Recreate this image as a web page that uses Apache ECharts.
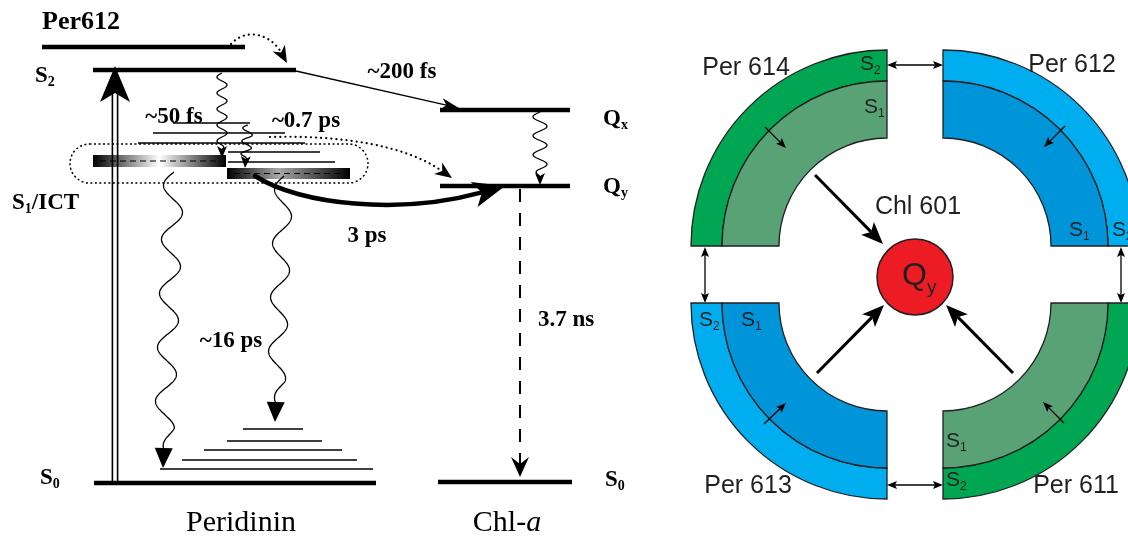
<!DOCTYPE html>
<html>
<head>
<meta charset="utf-8">
<script src="https://cdn.jsdelivr.net/npm/echarts@6/dist/echarts.min.js"></script>
<style>
  html, body { margin: 0; padding: 0; background: #fff; }
  #chart { width: 1128px; height: 537px; }
</style>
</head>
<body>
<div id="chart"></div>
<script>
// ---------- Scheme geometry (plot units = pixels of the 1128 x 537 frame) ----------

// Electronic levels: [x1, x2, y]
const levels = [
  [42, 245, 47],    // Per612 S2
  [93, 296, 70],    // Peridinin S2
  [440, 570, 110],  // Chl-a Qx
  [440, 570, 186],  // Chl-a Qy
  [94, 376, 483],   // Peridinin S0
  [438, 572, 482]   // Chl-a S0
];

// Vibrational sublevels: [x1, x2, y]
const subLevels = [
  [173, 250, 123], [153, 285, 133], [138, 305, 143], [228, 320, 152], [228, 335, 162],
  [243, 303, 429], [227, 322, 441], [204, 342, 450], [182, 357, 460], [160, 373, 469]
];

// S1/ICT bands: [x1, x2, yTop, yBottom, tone]
const ictBands = [
  [93, 226, 155, 167, 'light'],
  [227, 350, 168, 179, 'grey']
];

// Dotted envelope around the S1/ICT manifold: [x1, y1, x2, y2]
const ictEnvelope = [[70, 144, 368, 183]];

// Wavy (non-radiative) transitions: [x1, y1, x2, y2, amplitude, wavelength, head]
const waves = [
  [222, 73, 222, 158, 5, 16, 'small'],
  [248, 125, 245, 168, 5, 13, 'small'],
  [540, 112, 540, 185, 7, 19, 'small'],
  [174, 172, 163, 468, 10, 54, 'plain'],
  [284, 176, 275, 422, 9, 54, 'plain']
];

// Straight arrows: [x1, y1, x2, y2, kind]
const arrows = [
  [115, 483, 115, 66, 'excite'],
  [296, 71, 459, 108, 'thin'],
  [520, 189, 520, 477, 'dashed'],
  [815, 175, 883, 244, 'big'],
  [817, 373, 884, 305, 'big'],
  [1013, 373, 946, 305, 'big'],
  [765, 127, 786, 148, 'small'],
  [1065, 126, 1044, 147, 'small'],
  [764, 424, 786, 403, 'small'],
  [1064, 423, 1043, 402, 'small'],
  [887, 65, 943, 65, 'both'],
  [887, 485, 943, 485, 'both'],
  [705, 247, 705, 303, 'both'],
  [1121, 247, 1121, 303, 'both']
];

// Curved arrows (cubic): [x0, y0, c1x, c1y, c2x, c2y, x3, y3, kind]
const curves = [
  [231, 44, 248, 26, 272, 36, 287, 63, 'dotted'],
  [270, 137, 340, 135, 405, 145, 452, 178, 'dotted'],
  [255, 176, 300, 205, 400, 215, 505, 186, 'bold']
];

// Antenna quadrants: [cx, cy, startDeg, endDeg, tone]
const quadrants = [
  [887, 246, 180, 270, 'green'],  // Per 614
  [943, 246, 270, 360, 'blue'],   // Per 612
  [887, 303, 90, 180, 'blue'],    // Per 613
  [943, 303, 0, 90, 'green']      // Per 611
];
const bandRadii = [108, 165, 196];   // inner S1 edge, S1/S2 border, outer S2 edge

// Chl 601 acceptor: [cx, cy, r]
const acceptor = [[915, 277, 38]];

// Labels: [x, y, anchor, font, main, subscript, tail]
const labels = [
  [42, 22, 'left', 'serifL', 'Per612'],
  [35, 76, 'left', 'serif', 'S', '2'],
  [12, 203, 'left', 'serif', 'S', '1', '/ICT'],
  [40, 478, 'left', 'serif', 'S', '0'],
  [603, 119, 'left', 'serif', 'Q', 'x'],
  [603, 187, 'left', 'serif', 'Q', 'y'],
  [605, 480, 'left', 'serif', 'S', '0'],
  [174, 117, 'center', 'serif', '~50 fs'],
  [306, 121, 'center', 'serif', '~0.7 ps'],
  [402, 72, 'center', 'serif', '~200 fs'],
  [367, 236, 'center', 'serif', '3 ps'],
  [231, 341, 'center', 'serif', '~16 ps'],
  [566, 320, 'center', 'serif', '3.7 ns'],
  [241, 523, 'center', 'roman', 'Peridinin'],
  [507, 523, 'center', 'roman', 'Chl-', '', 'a'],
  [746, 68, 'center', 'sans', 'Per 614'],
  [1072, 65, 'center', 'sans', 'Per 612'],
  [748, 486, 'center', 'sans', 'Per 613'],
  [1076, 486, 'center', 'sans', 'Per 611'],
  [918, 207, 'center', 'sans', 'Chl 601'],
  [860, 64, 'left', 'state', 'S', '2'],
  [864, 107, 'left', 'state', 'S', '1'],
  [1069, 230, 'left', 'state', 'S', '1'],
  [1112, 230, 'left', 'state', 'S', '2'],
  [699, 320, 'left', 'state', 'S', '2'],
  [741, 320, 'left', 'state', 'S', '1'],
  [946, 441, 'left', 'state', 'S', '1'],
  [946, 480, 'left', 'state', 'S', '2'],
  [902, 276, 'left', 'qy', 'Q', 'y']
];

// ---------- Styles ----------
const INK = '#000';
const FONTS = {
  serifL: { main: 'bold 26px "Liberation Serif"', color: INK },
  serif:  { main: 'bold 23px "Liberation Serif"', sub: 'bold 14px "Liberation Serif"', dy: 6, color: INK },
  roman:  { main: '30px "Liberation Serif"', tail: 'italic 30px "Liberation Serif"', color: INK },
  sans:   { main: '25px "Liberation Sans"', color: '#231f20' },
  state:  { main: '21px "Liberation Sans"', sub: '12px "Liberation Sans"', dy: 7, color: '#231f20' },
  qy:     { main: '32px "Liberation Sans"', sub: '19px "Liberation Sans"', dy: 12, color: '#231f20' }
};
const HEADS = {
  excite: { L: 36, hw: 15, notch: 9 },
  thin:   { L: 18, hw: 6, notch: 5 },
  dashed: { L: 20, hw: 9, notch: 7 },
  big:    { L: 22, hw: 9, notch: 5 },
  small:  { L: 12, hw: 5, notch: 3 },
  tiny:   { L: 10, hw: 4, notch: 2 },
  plain:  { L: 20, hw: 9, notch: 0 },
  dotted: { L: 17, hw: 7, notch: 5 },
  bold:   { L: 32, hw: 13, notch: 8 }
};
const ARROW_KINDS = {
  excite: { w: 1.6, twin: 2.6, head: 'excite' },
  thin:   { w: 1.3, head: 'thin' },
  dashed: { w: 2, dash: [13, 11], head: 'dashed' },
  big:    { w: 3, head: 'big' },
  small:  { w: 1.3, head: 'tiny' },
  both:   { w: 1.3, head: 'tiny', both: true }
};
const CURVE_KINDS = {
  dotted: { w: 2.2, dash: [0.1, 5], head: 'dotted' },
  bold:   { w: 4.5, head: 'bold' }
};
const TONES = {
  green: { s2: '#00a651', s1: '#58a276' },
  blue:  { s2: '#00aeef', s1: '#0094d9' },
  light: [{ offset: 0, color: '#000' }, { offset: 0.5, color: '#fff' }, { offset: 1, color: '#000' }],
  grey:  [{ offset: 0, color: '#000' }, { offset: 0.42, color: '#a8a8a8' }, { offset: 1, color: '#000' }]
};

// ---------- Rendering helpers ----------
const measure = (() => {
  const ctx = document.createElement('canvas').getContext('2d');
  return (s, font) => { ctx.font = font; return ctx.measureText(s).width; };
})();

function unit(a, b) {
  const dx = b[0] - a[0], dy = b[1] - a[1], d = Math.hypot(dx, dy) || 1;
  return [dx / d, dy / d];
}

// Notched arrowhead whose tip sits at `tip`, pointing away from `from` (pixel coords).
function arrowHead(tip, from, h) {
  const [ux, uy] = unit(from, tip);
  const px = -uy, py = ux;
  const bx = tip[0] - ux * h.L, by = tip[1] - uy * h.L;
  return {
    type: 'polygon',
    shape: { points: [
      tip,
      [bx + px * h.hw, by + py * h.hw],
      [tip[0] - ux * (h.L - h.notch), tip[1] - uy * (h.L - h.notch)],
      [bx - px * h.hw, by - py * h.hw]
    ] },
    style: { fill: INK }
  };
}

function back(p, q, dist) {
  const [ux, uy] = unit(q, p);
  return [p[0] - ux * dist, p[1] - uy * dist];
}

const renderLevel = (r, api) => {
  const a = api.coord([r[0], r[2]]), b = api.coord([r[1], r[2]]);
  return { type: 'line', shape: { x1: a[0], y1: a[1], x2: b[0], y2: b[1] },
    style: { stroke: INK, lineWidth: 4.5 } };
};

const renderSubLevel = (r, api) => {
  const a = api.coord([r[0], r[2]]), b = api.coord([r[1], r[2]]);
  return { type: 'line', shape: { x1: a[0], y1: a[1], x2: b[0], y2: b[1] },
    style: { stroke: INK, lineWidth: 1.4 } };
};

const renderBand = (r, api) => {
  const a = api.coord([r[0], r[2]]), b = api.coord([r[1], r[3]]);
  const midY = (a[1] + b[1]) / 2;
  return { type: 'group', children: [
    { type: 'rect', shape: { x: a[0], y: a[1], width: b[0] - a[0], height: b[1] - a[1] },
      style: { fill: new echarts.graphic.LinearGradient(0, 0, 1, 0, TONES[r[4]]) } },
    { type: 'line', shape: { x1: a[0] + 7, y1: midY, x2: b[0] - 5, y2: midY },
      style: { stroke: INK, lineWidth: 1.2, lineDash: [6, 4] } }
  ] };
};

const renderEnvelope = (r, api) => {
  const a = api.coord([r[0], r[1]]), b = api.coord([r[2], r[3]]);
  return { type: 'rect',
    shape: { x: a[0], y: a[1], width: b[0] - a[0], height: b[1] - a[1], r: (b[1] - a[1]) / 2 },
    style: { fill: null, stroke: INK, lineWidth: 1.5, lineDash: [2, 2.5] } };
};

const renderWave = (r, api) => {
  const [x1, y1, x2, y2, amp, lambda, headKey] = r;
  const h = HEADS[headKey];
  const len = Math.hypot(x2 - x1, y2 - y1);
  const ux = (x2 - x1) / len, uy = (y2 - y1) / len, px = -uy, py = ux;
  const end = len - h.L + h.notch + 1;
  const pts = [];
  for (let s = 0; s <= end; s += 0.5) {
    const env = Math.min(1, (end - s) / (lambda * 0.4));
    const o = amp * Math.sin(2 * Math.PI * s / lambda) * env;
    pts.push(api.coord([x1 + ux * s + px * o, y1 + uy * s + py * o]));
  }
  return { type: 'group', children: [
    { type: 'polyline', shape: { points: pts }, style: { stroke: INK, lineWidth: 1.3, fill: null } },
    arrowHead(api.coord([x2, y2]), api.coord([x1, y1]), h)
  ] };
};

const renderArrow = (r, api) => {
  const k = ARROW_KINDS[r[4]], h = HEADS[k.head];
  const a = api.coord([r[0], r[1]]), b = api.coord([r[2], r[3]]);
  const end = back(b, a, h.L - h.notch);
  const start = k.both ? back(a, b, h.L - h.notch) : a;
  const children = [];
  const offsets = k.twin ? [-k.twin, k.twin] : [0];
  const [ux, uy] = unit(a, b);
  offsets.forEach(o => {
    children.push({ type: 'line',
      shape: { x1: start[0] - uy * o, y1: start[1] + ux * o, x2: end[0] - uy * o, y2: end[1] + ux * o },
      style: { stroke: INK, lineWidth: k.w, lineDash: k.dash || null } });
  });
  children.push(arrowHead(b, a, h));
  if (k.both) children.push(arrowHead(a, b, h));
  return { type: 'group', children };
};

const renderCurve = (r, api) => {
  const k = CURVE_KINDS[r[8]], h = HEADS[k.head];
  const p0 = api.coord([r[0], r[1]]), c1 = api.coord([r[2], r[3]]);
  const c2 = api.coord([r[4], r[5]]), p3 = api.coord([r[6], r[7]]);
  const e = back(p3, c2, h.L - h.notch);
  return { type: 'group', children: [
    { type: 'bezierCurve',
      shape: { x1: p0[0], y1: p0[1], cpx1: c1[0], cpy1: c1[1], cpx2: c2[0], cpy2: c2[1], x2: e[0], y2: e[1] },
      style: { stroke: INK, lineWidth: k.w, lineDash: k.dash || null, lineCap: 'round', fill: null } },
    arrowHead(p3, c2, h)
  ] };
};

const renderQuadrant = (r, api) => {
  const [cx, cy, a0, a1, tone] = r;
  const c = api.coord([cx, cy]);
  const px = v => api.coord([cx + v, cy])[0] - c[0];
  const rad = d => d * Math.PI / 180;
  const sector = (r0, r1, fill) => ({
    type: 'sector',
    shape: { cx: c[0], cy: c[1], r0: px(r0), r: px(r1), startAngle: rad(a0), endAngle: rad(a1), clockwise: true },
    style: { fill, stroke: '#231f20', lineWidth: 1.3 }
  });
  return { type: 'group', children: [
    sector(bandRadii[1], bandRadii[2], TONES[tone].s2),
    sector(bandRadii[0], bandRadii[1], TONES[tone].s1)
  ] };
};

const renderAcceptor = (r, api) => {
  const c = api.coord([r[0], r[1]]);
  const rr = api.coord([r[0] + r[2], r[1]])[0] - c[0];
  return { type: 'circle', shape: { cx: c[0], cy: c[1], r: rr },
    style: { fill: '#ed1c24', stroke: '#231f20', lineWidth: 1.5 } };
};

const renderLabel = (r, api) => {
  const [x, y, anchor, key, main, sub, tail] = r;
  const f = FONTS[key];
  const parts = [[main, f.main, 0]];
  if (sub) parts.push([sub, f.sub, f.dy]);
  if (tail) parts.push([tail, f.tail || f.main, 0]);
  const widths = parts.map(p => measure(p[0], p[1]));
  const total = widths.reduce((s, w) => s + w, 0);
  const p = api.coord([x, y]);
  let cx = anchor === 'center' ? p[0] - total / 2 : p[0];
  const children = parts.map((q, i) => {
    const el = { type: 'text', style: {
      text: q[0], x: cx, y: p[1] + q[2], font: q[1], fill: f.color,
      align: 'left', verticalAlign: 'middle', textAlign: 'left', textVerticalAlign: 'middle'
    } };
    cx += widths[i];
    return el;
  });
  return { type: 'group', children };
};

function layer(name, rows, render, z) {
  return {
    type: 'custom', name, coordinateSystem: 'cartesian2d', z, silent: true, animation: false,
    clip: false,
    data: rows.map(row => { const n = row.filter(v => typeof v === 'number'); return [n[0], n[1]]; }),
    renderItem: (params, api) => render(rows[params.dataIndex], api)
  };
}

const chart = echarts.init(document.getElementById('chart'), null, { renderer: 'canvas' });
chart.setOption({
  backgroundColor: '#fff',
  animation: false,
  grid: { left: 0, right: 0, top: 0, bottom: 0, containLabel: false, outerBoundsMode: 'none' },
  xAxis: { type: 'value', min: 0, max: 1128, show: false },
  yAxis: { type: 'value', min: 0, max: 537, inverse: true, show: false },
  series: [
    layer('quadrants', quadrants, renderQuadrant, 1),
    layer('ictBands', ictBands, renderBand, 2),
    layer('subLevels', subLevels, renderSubLevel, 3),
    layer('levels', levels, renderLevel, 3),
    layer('envelope', ictEnvelope, renderEnvelope, 4),
    layer('waves', waves, renderWave, 5),
    layer('arrows', arrows, renderArrow, 5),
    layer('curves', curves, renderCurve, 6),
    layer('acceptor', acceptor, renderAcceptor, 6),
    layer('labels', labels, renderLabel, 7)
  ]
});
</script>
</body>
</html>
